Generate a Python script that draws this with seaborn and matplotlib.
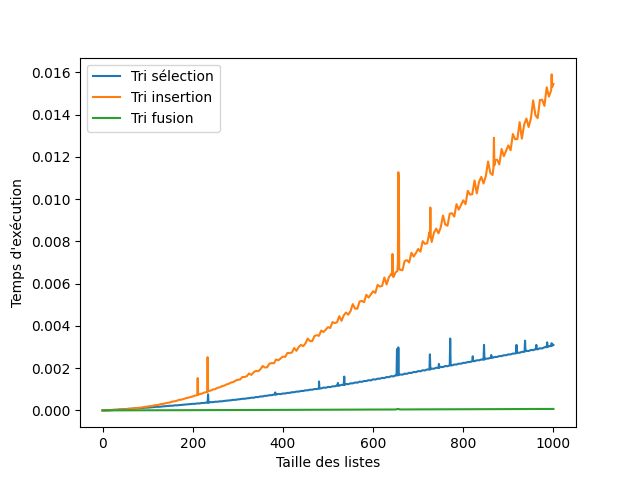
import matplotlib
matplotlib.use("Agg")
import matplotlib.pyplot as plt
import seaborn as sns
import pandas as pd

# ---- data ----
sizes = list(range(0, 1001, 5))

selection = [
    0.00000, 0.00000, 0.00001, 0.00001, 0.00002, 0.00003, 0.00003, 0.00004, 0.00005, 0.00005,
    0.00006, 0.00007, 0.00008, 0.00008, 0.00009, 0.00010, 0.00010, 0.00011, 0.00012, 0.00013,
    0.00013, 0.00014, 0.00015, 0.00016, 0.00017, 0.00017, 0.00018, 0.00019, 0.00020, 0.00021,
    0.00022, 0.00022, 0.00024, 0.00024, 0.00025, 0.00026, 0.00027, 0.00028, 0.00029, 0.00030,
    0.00031, 0.00031, 0.00033, 0.00033, 0.00035, 0.00035, 0.00037, 0.00037, 0.00039, 0.00039,
    0.00041, 0.00041, 0.00043, 0.00043, 0.00045, 0.00046, 0.00047, 0.00048, 0.00050, 0.00050,
    0.00052, 0.00053, 0.00055, 0.00055, 0.00057, 0.00058, 0.00060, 0.00060, 0.00063, 0.00063,
    0.00066, 0.00066, 0.00069, 0.00069, 0.00072, 0.00072, 0.00075, 0.00075, 0.00078, 0.00077,
    0.00080, 0.00080, 0.00083, 0.00083, 0.00086, 0.00086, 0.00089, 0.00089, 0.00092, 0.00092,
    0.00095, 0.00095, 0.00098, 0.00098, 0.00101, 0.00101, 0.00104, 0.00104, 0.00108, 0.00107,
    0.00111, 0.00110, 0.00114, 0.00114, 0.00118, 0.00117, 0.00121, 0.00121, 0.00125, 0.00124,
    0.00128, 0.00128, 0.00132, 0.00131, 0.00136, 0.00135, 0.00139, 0.00139, 0.00143, 0.00142,
    0.00147, 0.00146, 0.00150, 0.00150, 0.00154, 0.00153, 0.00158, 0.00157, 0.00162, 0.00161,
    0.00166, 0.00166, 0.00170, 0.00169, 0.00174, 0.00173, 0.00178, 0.00177, 0.00182, 0.00181,
    0.00186, 0.00185, 0.00190, 0.00189, 0.00194, 0.00193, 0.00198, 0.00197, 0.00202, 0.00201,
    0.00206, 0.00205, 0.00210, 0.00209, 0.00213, 0.00213, 0.00217, 0.00217, 0.00221, 0.00221,
    0.00225, 0.00225, 0.00229, 0.00229, 0.00233, 0.00233, 0.00237, 0.00237, 0.00241, 0.00241,
    0.00245, 0.00245, 0.00249, 0.00249, 0.00253, 0.00253, 0.00257, 0.00257, 0.00261, 0.00261,
    0.00265, 0.00265, 0.00269, 0.00269, 0.00273, 0.00273, 0.00277, 0.00277, 0.00282, 0.00281,
    0.00286, 0.00285, 0.00290, 0.00289, 0.00294, 0.00293, 0.00299, 0.00300, 0.00304, 0.00306,
    0.00310,
]

insertion = [
    0.00000, 0.00000, 0.00000, 0.00001, 0.00001, 0.00002, 0.00002, 0.00003, 0.00004, 0.00004,
    0.00005, 0.00006, 0.00007, 0.00008, 0.00010, 0.00011, 0.00012, 0.00013, 0.00015, 0.00017,
    0.00018, 0.00020, 0.00021, 0.00024, 0.00025, 0.00027, 0.00030, 0.00031, 0.00034, 0.00036,
    0.00038, 0.00042, 0.00043, 0.00046, 0.00050, 0.00051, 0.00054, 0.00058, 0.00060, 0.00063,
    0.00066, 0.00070, 0.00072, 0.00077, 0.00079, 0.00084, 0.00086, 0.00091, 0.00094, 0.00099,
    0.00101, 0.00107, 0.00109, 0.00115, 0.00117, 0.00123, 0.00126, 0.00132, 0.00134, 0.00141,
    0.00145, 0.00146, 0.00158, 0.00158, 0.00162, 0.00175, 0.00168, 0.00180, 0.00187, 0.00185,
    0.00194, 0.00210, 0.00203, 0.00204, 0.00221, 0.00224, 0.00223, 0.00241, 0.00237, 0.00246,
    0.00255, 0.00253, 0.00272, 0.00271, 0.00274, 0.00295, 0.00282, 0.00300, 0.00310, 0.00304,
    0.00317, 0.00340, 0.00328, 0.00328, 0.00352, 0.00356, 0.00353, 0.00378, 0.00371, 0.00382,
    0.00394, 0.00390, 0.00418, 0.00413, 0.00417, 0.00446, 0.00424, 0.00450, 0.00463, 0.00453,
    0.00470, 0.00503, 0.00482, 0.00481, 0.00515, 0.00518, 0.00512, 0.00547, 0.00534, 0.00549,
    0.00564, 0.00556, 0.00594, 0.00586, 0.00589, 0.00629, 0.00596, 0.00630, 0.00646, 0.00631,
    0.00653, 0.00696, 0.00666, 0.00663, 0.00707, 0.00711, 0.00700, 0.00746, 0.00728, 0.00745,
    0.00764, 0.00751, 0.00801, 0.00788, 0.00791, 0.00843, 0.00797, 0.00841, 0.00860, 0.00838,
    0.00866, 0.00922, 0.00880, 0.00874, 0.00931, 0.00933, 0.00917, 0.00976, 0.00950, 0.00972,
    0.00994, 0.00976, 0.01039, 0.01021, 0.01023, 0.01088, 0.01027, 0.01082, 0.01105, 0.01074,
    0.01109, 0.01178, 0.01124, 0.01114, 0.01185, 0.01186, 0.01164, 0.01237, 0.01203, 0.01228,
    0.01254, 0.01231, 0.01308, 0.01283, 0.01284, 0.01364, 0.01286, 0.01353, 0.01381, 0.01341,
    0.01382, 0.01467, 0.01397, 0.01383, 0.01469, 0.01470, 0.01441, 0.01529, 0.01485, 0.01515,
    0.01545,
]

fusion_sizes = [0, 100, 200, 300, 400, 500, 600, 650, 655, 660, 700, 800, 900, 1000]
fusion = [0.000000, 0.000006, 0.000011, 0.000018, 0.000025, 0.000032, 0.000040,
          0.000043, 0.000070, 0.000044, 0.000048, 0.000055, 0.000062, 0.000070]

# isolated spikes (size, value), with the samples right beside them
selection_spike_sizes = [233, 234, 236, 382, 383, 384, 479, 480, 481, 521, 522, 523,
                         534, 536, 537, 652, 653, 654, 656, 657, 724, 726, 727,
                         744, 746, 747, 769, 771, 772, 819, 821, 822, 844, 846, 847,
                         861, 862, 863, 917, 918, 919, 936, 937, 938, 961, 962, 963,
                         984, 986, 987, 994, 996, 997]
selection_spike_values = [0.00036, 0.00076, 0.00037, 0.00075, 0.00085, 0.00075,
                          0.00103, 0.00137, 0.00104, 0.00117, 0.00130, 0.00117,
                          0.00121, 0.00160, 0.00121, 0.00165, 0.00290, 0.00272,
                          0.00298, 0.00167, 0.00193, 0.00265, 0.00194,
                          0.00201, 0.00220, 0.00202, 0.00212, 0.00340, 0.00213,
                          0.00232, 0.00256, 0.00233, 0.00240, 0.00310, 0.00241,
                          0.00249, 0.00262, 0.00249, 0.00271, 0.00310, 0.00271,
                          0.00279, 0.00330, 0.00280, 0.00289, 0.00310, 0.00290,
                          0.00299, 0.00322, 0.00300, 0.00304, 0.00318, 0.00306]

insertion_spike_sizes = [211, 212, 232, 233, 234, 642, 643, 644, 654, 656, 657, 658,
                         726, 727, 728, 867, 868, 869, 996, 997]
insertion_spike_values = [0.00153, 0.00074, 0.00087, 0.00252, 0.00090,
                          0.00640, 0.00740, 0.00642, 0.00660, 0.01127, 0.01100, 0.00668,
                          0.00820, 0.00960, 0.00822, 0.01150, 0.01290, 0.01160,
                          0.01590, 0.01530]

labels = ["Tri sélection", "Tri insertion", "Tri fusion"]

# ---- build long-form tables ----
frames = [
    pd.DataFrame({"taille": sizes + selection_spike_sizes,
                  "temps": selection + selection_spike_values}),
    pd.DataFrame({"taille": sizes + insertion_spike_sizes,
                  "temps": insertion + insertion_spike_values}),
    pd.DataFrame({"taille": fusion_sizes, "temps": fusion}),
]

fig, ax = plt.subplots(figsize=(6.4, 4.8), dpi=100)
colors = ["#1f77b4", "#ff7f0e", "#2ca02c"]
for df, lab, col in zip(frames, labels, colors):
    df = df.sort_values("taille", kind="stable")
    sns.lineplot(data=df, x="taille", y="temps", ax=ax, label=lab, color=col,
                 estimator=None, sort=False, linewidth=1.5)

ax.set_xlabel("Taille des listes")
ax.set_ylabel("Temps d'exécution")
ax.legend(loc="upper left")
fig.savefig("out.png", dpi=100)
